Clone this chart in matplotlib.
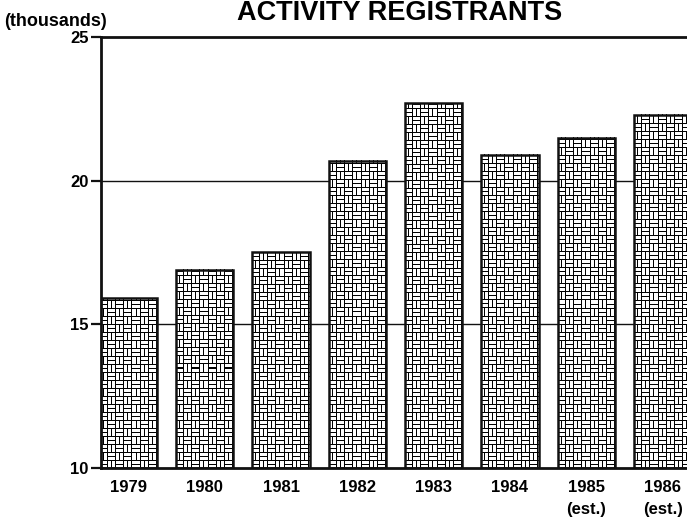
import matplotlib
matplotlib.use("Agg")
import matplotlib.pyplot as plt
import numpy as np

years = ["1979", "1980", "1981", "1982", "1983", "1984", "1985\n(est.)", "1986\n(est.)"]
registrants = [15.9, 16.9, 17.5, 20.7, 22.7, 20.9, 21.5, 22.3]  # thousands
yticks = [10, 15, 20, 25]

plt.rcParams["font.family"] = ["Liberation Sans", "DejaVu Sans"]
plt.rcParams["font.weight"] = "bold"

W, H = 687, 521
fig = plt.figure(figsize=(W / 100, H / 100), dpi=100)
left, right, bottom, top = 101 / W, 1.0, 1 - 468 / H, 1 - 37 / H
ax = fig.add_axes([left, bottom, right - left, top - bottom])

xlim = (-0.36, 7.32)
ylim = (10, 25)
bar_w = 0.75


def weave_tile():
    # basketweave: 8x8 blocks of two parallel strips, alternating direction
    t = np.zeros((16, 16))
    blk_h = np.zeros((8, 8))
    blk_h[0:3, 0:7] = 1
    blk_h[4:7, 0:7] = 1
    blk_v = blk_h.T
    t[0:8, 0:8] = blk_h
    t[8:16, 8:16] = blk_h
    t[0:8, 8:16] = blk_v
    t[8:16, 0:8] = blk_v
    return t


ax_w = (right - left) * W
ax_h = (top - bottom) * H
px_x = ax_w / (xlim[1] - xlim[0])
px_y = ax_h / (ylim[1] - ylim[0])
tile = weave_tile()

x = np.arange(len(years))
ax.bar(x, np.array(registrants) - ylim[0], bottom=ylim[0], width=bar_w,
       color="none", edgecolor="#111111", linewidth=1.8, zorder=3)

# texture each bar with an image sized to its own pixel footprint
for xi, v in zip(x, registrants):
    nw = int(round(bar_w * px_x))
    nh = int(round((v - ylim[0]) * px_y))
    tex = np.tile(tile, (nh // 16 + 2, nw // 16 + 2))[:nh, :nw]
    ax.imshow(tex, cmap="gray", vmin=0, vmax=1,
              extent=(xi - bar_w / 2, xi + bar_w / 2, ylim[0], v),
              origin="lower", aspect="auto", interpolation="nearest", zorder=2.5)

for g in [15, 20]:
    ax.axhline(g, color="#111111", linewidth=1.0, zorder=1)

ax.set_xlim(*xlim)
ax.set_ylim(*ylim)
ax.set_xticks(x)
ax.set_xticklabels(years, fontsize=12, fontweight="bold", linespacing=1.55)
ax.set_yticks(yticks)
ax.set_yticklabels([str(v) for v in yticks], fontsize=12, fontweight="bold")
ax.tick_params(axis="x", length=0, pad=9)
ax.tick_params(axis="y", length=7, width=1.6, pad=2, color="#111111")

for s in ["left", "bottom", "top"]:
    ax.spines[s].set_linewidth(2.0)
    ax.spines[s].set_color("#111111")
ax.spines["right"].set_visible(False)

fig.text(400 / W, 1 - 20.5 / H, "ACTIVITY REGISTRANTS", ha="center", va="baseline",
         fontsize=19.5, fontweight="bold")
fig.text(4 / W, 1 - 22 / H, "(thousands)", ha="left", va="center",
         fontsize=13, fontweight="bold")

fig.savefig("out.png", dpi=100)
